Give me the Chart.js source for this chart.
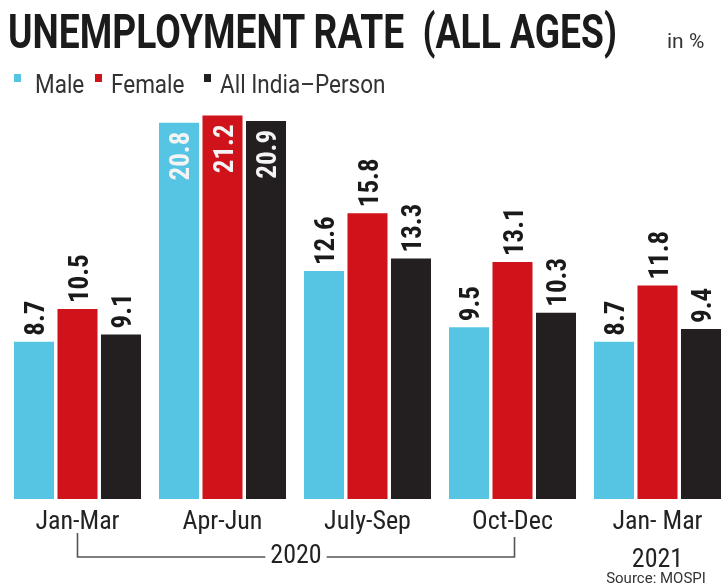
<!DOCTYPE html>
<html>
<head>
<meta charset="utf-8">
<script src="https://cdn.jsdelivr.net/npm/chart.js@4/dist/chart.umd.min.js"></script>
<style>
    html, body { margin: 0; padding: 0; background: #fff; overflow: hidden; width: 722px; height: 587px; }
    #wrap { position: relative; width: 722px; height: 587px; overflow: hidden; }
    canvas { position: absolute; left: 0; top: 0; }
    .txt { position: absolute; white-space: pre; line-height: 1; font-family: Roboto, "Noto Sans", sans-serif; transform-origin: 0 0; }
    #titulo { left: 8px; top: 8px; font-size: 48px; font-weight: 700; color: #1b1b1b; }
    #unidad { left: 667px; top: 31px; font-size: 21px; color: #333; }
    .ley { top: 72px; font-size: 25px; color: #333; transform: scaleX(0.9); }
    .cuadro { position: absolute; top: 74px; width: 7px; height: 8px; }
</style>
</head>
<body>
<div id="wrap">
    <canvas id="graficoDesempleo" width="730" height="587"></canvas>
    <div id="titulo" class="txt">UNEMPLOYMENT RATE  (ALL AGES)</div>
    <div id="unidad" class="txt">in %</div>
    <div class="cuadro" style="left:14px;background:#55c5e3"></div>
    <div class="txt ley" style="left:35px">Male</div>
    <div class="cuadro" style="left:95px;background:#d0121b"></div>
    <div class="txt ley" style="left:111px">Female</div>
    <div class="cuadro" style="left:204px;background:#231f20"></div>
    <div class="txt ley" style="left:220px">All India–Person</div>
</div>
<script>
// Datos (en %)
const trimestres  = ['Jan-Mar', 'Apr-Jun', 'July-Sep', 'Oct-Dec', ['Jan- Mar', '2021']];
const hombres     = [8.7, 20.8, 12.6, 9.5, 8.7];
const mujeres     = [10.5, 21.2, 15.8, 13.1, 11.8];
const totalIndia  = [9.1, 20.9, 13.3, 10.3, 9.4];
const series      = ['Male', 'Female', 'All India–Person'];
const anioGrupo   = '2020';
const fuente      = 'Source: MOSPI';

const COLORES = ['#55c5e3', '#d0121b', '#231f20'];

// Ajustar el ancho del título al original
(function _ajustarTitulo() {
    const el = document.getElementById('titulo');
    const ancho = el.getBoundingClientRect().width;
    el.style.transform = `scaleX(${609 / ancho})`;
})();

// Etiquetas verticales con el valor de cada barra
const etiquetasValor = {
    id: 'etiquetasValor',
    afterDatasetsDraw(chart) {
        const ctx = chart.ctx;
        chart.data.datasets.forEach((ds, i) => {
            const meta = chart.getDatasetMeta(i);
            meta.data.forEach((barra, j) => {
                const valor = ds.data[j];
                const dentro = valor > 18;
                ctx.save();
                ctx.font = 'bold 27px "Roboto Condensed", Roboto, sans-serif';
                ctx.fillStyle = dentro ? '#f4f4f4' : '#1a1a1a';
                if (dentro) {
                    ctx.translate(barra.x, barra.y + 9);
                    ctx.rotate(-Math.PI / 2);
                    ctx.textAlign = 'right';
                } else {
                    ctx.translate(barra.x, barra.y - 6);
                    ctx.rotate(-Math.PI / 2);
                    ctx.textAlign = 'left';
                }
                ctx.textBaseline = 'alphabetic';
                ctx.fillText(valor.toFixed(1), 0, 10);
                ctx.restore();
            });
        });
    }
};

// Corchete del año 2020 y fuente
const corcheteAnio = {
    id: 'corcheteAnio',
    afterDraw(chart) {
        const ctx = chart.ctx;
        const x = chart.scales.x;
        const x0 = x.getPixelForValue(0);
        const x3 = x.getPixelForValue(3) + 2;
        const yLinea = 557;
        const xm = (x0 + x3) / 2;

        ctx.save();
        ctx.font = '26px "Roboto Condensed", Roboto, sans-serif';
        const medio = ctx.measureText(anioGrupo).width / 2 + 5;

        ctx.strokeStyle = '#555';
        ctx.lineWidth = 1.6;
        ctx.beginPath();
        ctx.moveTo(x0, 533);
        ctx.lineTo(x0, yLinea);
        ctx.lineTo(xm - medio, yLinea);
        ctx.moveTo(xm + medio, yLinea);
        ctx.lineTo(x3, yLinea);
        ctx.lineTo(x3, 537);
        ctx.stroke();

        ctx.fillStyle = '#222';
        ctx.textAlign = 'center';
        ctx.textBaseline = 'middle';
        ctx.fillText(anioGrupo, xm, 556);

        ctx.font = '15px Roboto, sans-serif';
        ctx.fillStyle = '#333';
        ctx.fillText(fuente, 656, 579);
        ctx.restore();
    }
};

new Chart(document.getElementById('graficoDesempleo'), {
    type: 'bar',
    data: {
        labels: trimestres,
        datasets: [hombres, mujeres, totalIndia].map((valores, i) => ({
            label: series[i],
            data: valores,
            backgroundColor: COLORES[i],
            borderWidth: 0,
            categoryPercentage: 0.9,
            barPercentage: 0.92
        }))
    },
    options: {
        responsive: false,
        animation: false,
        layout: { padding: { left: 5, right: 0, top: 101, bottom: 4 } },
        plugins: { legend: { display: false }, tooltip: { enabled: false } },
        scales: {
            x: {
                grid: { display: false, drawTicks: false },
                border: { display: false },
                ticks: {
                    color: '#222',
                    padding: 4,
                    maxRotation: 0,
                    autoSkip: false,
                    font: { family: '"Roboto Condensed", Roboto, sans-serif', size: 26, lineHeight: 1.46 }
                }
            },
            y: { display: false, min: 0, max: 22 }
        }
    },
    plugins: [etiquetasValor, corcheteAnio]
});
</script>
</body>
</html>
